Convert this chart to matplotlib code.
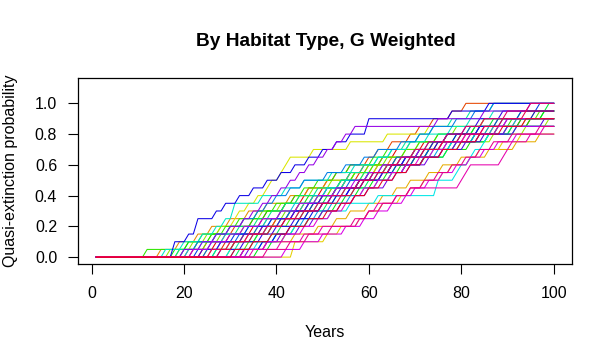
import matplotlib.pyplot as plt
import matplotlib.colors as mcolors
import numpy as np

plt.rcParams['font.family'] = ['Liberation Sans', 'DejaVu Sans']

# years simulated and size of one quasi-extinction step (1 of 20 runs)
years = np.arange(1, 101)
step = 0.05

# year at which each extra run goes quasi-extinct, one list per series
jumps_01 = [22, 27, 30, 35, 37, 41, 45, 46, 50, 54, 56, 59, 63, 66, 72, 77, 84, 93]
jumps_02 = [24, 29, 33, 37, 40, 43, 46, 48, 51, 55, 58, 62, 66, 70, 75, 81, 87, 95]
jumps_03 = [21, 25, 29, 31, 35, 38, 42, 44, 47, 51, 53, 56, 60, 62, 65, 69, 71, 74, 78, 81]
jumps_04 = [26, 31, 34, 38, 40, 44, 48, 50, 53, 58, 61, 64, 70, 73, 76, 82, 88, 92]
jumps_05 = [15, 19, 23, 26, 30, 34, 38, 43, 47, 51, 56, 60, 65, 70, 76, 83, 90]
jumps_06 = [33, 38, 44, 49, 53, 56, 60, 63, 66, 69, 73, 76, 80, 86, 92, 97]
jumps_07 = [44, 44, 51, 54, 58, 60, 63, 67, 69, 72, 76, 78, 82, 84, 89, 93]
jumps_08 = [20, 23, 26, 28, 31, 32, 34, 36, 38, 39, 41, 42, 43, 48, 56, 64, 73, 85, 96]
jumps_09 = [25, 30, 33, 36, 41, 43, 47, 49, 52, 55, 59, 62, 67, 70, 74, 80, 86, 94]
jumps_10 = [17, 22, 25, 28, 33, 37, 41, 45, 48, 52, 57, 61, 66, 72, 79, 87, 94, 99]
jumps_11 = [19, 25, 28, 33, 38, 42, 45, 48, 52, 55, 57, 60, 64, 68, 71, 75, 79, 85]
jumps_12 = [30, 34, 36, 39, 43, 45, 48, 50, 53, 54, 57, 61, 63, 68, 71, 77, 82, 88, 97]
jumps_13 = [12, 21, 24, 29, 32, 36, 40, 44, 46, 49, 53, 56, 61, 64, 69, 75, 83, 91]
jumps_14 = [18, 21, 26, 30, 35, 38, 42, 47, 53, 58, 63, 67, 72, 77, 82, 86, 91, 95, 98]
jumps_15 = [36, 39, 42, 44, 47, 50, 53, 55, 58, 61, 64, 66, 70, 73, 78, 83, 88, 93, 98]
jumps_16 = [27, 31, 36, 39, 42, 46, 49, 51, 55, 58, 60, 64, 67, 71, 74, 79, 83, 87, 93, 99]
jumps_17 = [32, 35, 39, 41, 45, 47, 51, 53, 57, 60, 65, 68, 72, 77, 80, 86, 91]
jumps_18 = [19, 23, 27, 32, 36, 39, 42, 45, 49, 54, 59, 64, 68, 73, 78, 84, 92]
jumps_19 = [27, 32, 35, 38, 41, 43, 46, 49, 51, 54, 56, 59, 62, 65, 68, 71, 74, 78, 82, 87]
jumps_20 = [16, 20, 24, 27, 29, 31, 31, 37, 42, 46, 52, 57, 62, 65, 69, 73, 78, 82, 87]
jumps_21 = [30, 36, 40, 44, 47, 52, 56, 62, 75, 75, 79, 80, 82, 83, 85, 86, 90]
jumps_22 = [21, 24, 29, 34, 38, 41, 44, 48, 51, 55, 60, 65, 69, 74, 78, 83, 87, 92]
jumps_23 = [31, 37, 40, 43, 46, 49, 52, 56, 59, 62, 65, 68, 72, 75, 79, 83, 86]
jumps_24 = [20, 23, 27, 30, 33, 36, 38, 40, 43, 46, 51, 55, 59, 62, 67, 71, 74, 79, 83, 87]
jumps_25 = [25, 28, 32, 36, 39, 43, 47, 50, 53, 56, 60, 63, 66, 70, 73, 77, 82, 89]
jumps_26 = [23, 26, 31, 34, 39, 44, 48, 52, 56, 59, 62, 66, 70, 73, 77, 80, 84, 88, 93, 97]
jumps_27 = [33, 37, 40, 43, 45, 48, 50, 53, 56, 58, 61, 65, 68, 71, 75, 79, 84, 90, 96]
jumps_28 = [18, 18, 21, 23, 23, 27, 29, 32, 35, 38, 41, 44, 47, 50, 53, 56, 60, 60, 78, 86]
jumps_29 = [28, 33, 37, 40, 44, 47, 50, 52, 56, 59, 63, 65, 68, 72, 74, 77, 81, 84, 89]
jumps_30 = [24, 28, 33, 37, 41, 44, 47, 50, 54, 58, 63, 68, 72, 76, 81, 85, 92, 98]
jumps_31 = [34, 38, 41, 45, 48, 50, 54, 57, 60, 64, 66, 69, 73, 76, 79, 84, 90]
jumps_32 = [20, 24, 27, 30, 33, 35, 37, 39, 41, 43, 45, 47, 49, 51, 53, 55, 57, 75, 85, 95]
jumps_33 = [22, 26, 30, 33, 37, 41, 45, 49, 53, 57, 60, 63, 67, 71, 76, 82, 88]
jumps_34 = [42, 46, 50, 55, 59, 62, 65, 68, 70, 73, 76, 79, 82, 85, 88, 92]
jumps_35 = [33, 38, 42, 46, 49, 52, 55, 57, 59, 62, 65, 68, 71, 74, 77, 81, 85, 90]
jumps_36 = [35, 41, 46, 50, 58, 60, 62, 66, 69, 80, 81, 82, 89, 90, 91, 95, 98]
jumps_37 = [38, 43, 47, 52, 57, 60, 63, 66, 69, 72, 75, 78, 81, 84, 87, 91, 97]
jumps_38 = [26, 30, 34, 38, 42, 45, 49, 52, 55, 58, 61, 64, 67, 70, 73, 77, 81, 85, 90, 95]
jumps_39 = [28, 31, 35, 39, 42, 46, 50, 54, 57, 59, 62, 65, 69, 72, 76, 80, 85, 89, 94]
jumps_40 = [31, 35, 39, 43, 47, 51, 54, 57, 60, 63, 66, 69, 72, 76, 80, 84, 89, 94]

all_jumps = [jumps_01, jumps_02, jumps_03, jumps_04, jumps_05, jumps_06, jumps_07, jumps_08,
             jumps_09, jumps_10, jumps_11, jumps_12, jumps_13, jumps_14, jumps_15, jumps_16,
             jumps_17, jumps_18, jumps_19, jumps_20, jumps_21, jumps_22, jumps_23, jumps_24,
             jumps_25, jumps_26, jumps_27, jumps_28, jumps_29, jumps_30, jumps_31, jumps_32,
             jumps_33, jumps_34, jumps_35, jumps_36, jumps_37, jumps_38, jumps_39, jumps_40]

# R-style rainbow(n), slightly darkened
n = len(all_jumps)
hues = np.arange(n) / n
line_colors = [mcolors.hsv_to_rgb((h, 1.0, 0.9)) for h in hues]

fig = plt.figure(figsize=(6.13, 3.62), dpi=100)
ax = fig.add_axes([78 / 613, 1 - 264 / 362, (572 - 78) / 613, (264 - 78) / 362])

for jumps, col in zip(all_jumps, line_colors):
    j = np.array(jumps)
    prob = np.array([step * np.sum(j <= y) for y in years])
    ax.plot(years, prob, color=col, linewidth=0.75)

ax.set_xlim(-2.96, 103.96)
ax.set_ylim(-0.0448, 1.1648)
ax.set_xticks([0, 20, 40, 60, 80, 100])
ax.set_yticks([0.0, 0.2, 0.4, 0.6, 0.8, 1.0])
ax.set_yticklabels(['0.0', '0.2', '0.4', '0.6', '0.8', '1.0'])
ax.tick_params(axis='both', direction='out', length=7, width=0.8, labelsize=11.5, color='black')
ax.tick_params(axis='x', pad=9)
ax.tick_params(axis='y', pad=8)
for sp in ax.spines.values():
    sp.set_linewidth(0.9)
    sp.set_color('black')

ax.set_xlabel('Years', fontsize=11.5, labelpad=17)
ax.set_ylabel('Quasi-extinction probability', fontsize=11.5, labelpad=12)
fig.text(0.532, 1 - 41 / 362, 'By Habitat Type, G Weighted', ha='center', va='center',
         fontsize=13.8, fontweight='bold')

fig.savefig('out.png', dpi=100)
